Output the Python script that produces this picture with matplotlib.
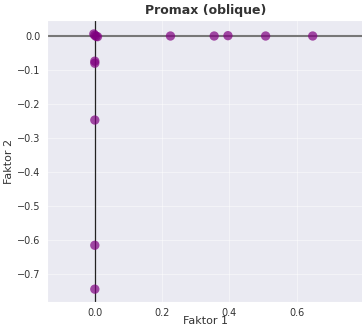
import matplotlib
matplotlib.use("Agg")
import matplotlib.pyplot as plt
import seaborn as sns

sns.set_style("darkgrid")
plt.rcParams['font.family'] = ['DejaVu Sans']

factor1 = [-0.003, 0.0, 0.004, 0.008, 0.0, 0.0, 0.0, 0.0, 0.0, 0.225, 0.355, 0.396, 0.508, 0.648]
factor2 = [0.006, 0.002, -0.001, -0.002, -0.074, -0.080, -0.247, -0.615, -0.744, 0.0, 0.0, 0.001, 0.0, 0.0]
title = "Promax (oblique)"
xlabel = "Faktor 1"
ylabel = "Faktor 2"

fig = plt.figure(figsize=(3.62, 3.28), dpi=100)
ax = fig.add_axes([0.130, 0.079, 0.875, 0.860])
ax.grid(True, color="white", alpha=0.45, lw=0.8)
ax.axhline(0, color="#777777", lw=1.5, zorder=1)
ax.axvline(0, color="#222222", lw=0.9, zorder=1)
ax.scatter(factor1, factor2, s=45, color="purple", alpha=0.7, edgecolors="none", zorder=3)
ax.set_xlim(-0.142, 0.80)
ax.set_ylim(-0.782, 0.047)
ax.set_xticks([0.0, 0.2, 0.4, 0.6])
ax.set_yticks([0.0, -0.1, -0.2, -0.3, -0.4, -0.5, -0.6, -0.7])
ax.tick_params(labelsize=7, colors="#333333", pad=1)
ax.set_xlabel(xlabel, fontsize=8, color="#333333")
ax.set_ylabel(ylabel, fontsize=8, color="#333333")
ax.xaxis.set_label_coords(0.5, -0.05)
ax.yaxis.set_label_coords(-0.105, 0.5)
ax.set_title(title, fontsize=9, fontweight="bold", color="#333333", pad=4)
fig.savefig("out.png", dpi=100)
